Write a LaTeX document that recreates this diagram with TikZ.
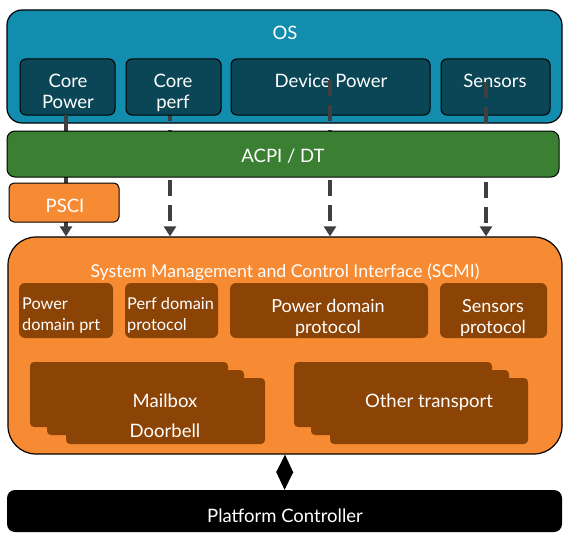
\documentclass[tikz,border=0pt]{standalone}
\usepackage{fontspec}
\setmainfont{Lato}
\usetikzlibrary{fit,arrows.meta}
\definecolor{osblue}{HTML}{128DAE}
\definecolor{osdark}{HTML}{0B4656}
\definecolor{acpigreen}{HTML}{3A7F32}
\definecolor{scmiorange}{HTML}{F68B33}
\definecolor{protobrown}{HTML}{8C4406}
\definecolor{conngray}{HTML}{3F3F3F}
\begin{document}
\begin{tikzpicture}[x=1pt,y=-1pt,
  box/.style={inner sep=0pt, draw=black, line width=1pt},
  osbig/.style={box, fill=osblue, rounded corners=15pt, line width=1.2pt},
  ossub/.style={box, fill=osdark, rounded corners=6pt},
  acpibox/.style={box, fill=acpigreen, rounded corners=8pt},
  orangebox/.style={box, fill=scmiorange, rounded corners=5pt},
  scmibox/.style={box, fill=scmiorange, rounded corners=28pt, line width=1.2pt},
  proto/.style={inner sep=0pt, fill=protobrown, rounded corners=6pt},
  stack/.style={inner sep=0pt, fill=protobrown, rounded corners=4pt},
  platbox/.style={inner sep=0pt, fill=black, rounded corners=8pt},
  txt/.style={text=white, font=\fontsize{18.5}{21}\selectfont, inner sep=0pt, anchor=base},
  txts/.style={txt, font=\fontsize{16.3}{19}\selectfont, anchor=base west},
  txtm/.style={txt, font=\fontsize{18}{21}\selectfont},
  solidconn/.style={draw=conngray, line width=3.5pt, -{Triangle[length=10pt,width=12pt]}},
  dashconn/.style={draw=conngray, line width=3.5pt, dash pattern=on 16pt off 9pt, -{Triangle[length=10pt,width=12pt]}},
  dbl/.style={draw=black, line width=1pt, {Triangle[length=18pt,width=17pt]}-{Triangle[length=18pt,width=17pt]}}
]
\useasboundingbox (0,0) rectangle (576,543);

% OS layer
\node[osbig, fit={(7,10) (562,123)}] (os) {};
\node[txt] (ostxt) at (285,40) {OS};

% SCMI block
\node[scmibox, fit={(8,237) (562,454)}] (scmi) {};

% core perf connector lies behind its box
\coordinate (cperfsrc) at (170,80);
\draw[dashconn] (cperfsrc) -- (cperfsrc |- scmi.north);

\node[ossub, fit={(20,59) (115,115)}] (cpow) {};
\node[ossub, fit={(126,59) (221,115)}] (cperf) {};
\node[ossub, fit={(231,59) (430,115)}] (dpow) {};
\node[ossub, fit={(441,59) (550,115)}] (sens) {};

\node[txt] (cpow1) at (68,88) {Core};
\node[txt] (cpow2) at (68,109) {Power};
\node[txt] (cperf1) at (173,88) {Core};
\node[txt] (cperf2) at (173,109) {perf};
\node[txt] (dpowt) at (331,88) {Device Power};
\node[txt] (senst) at (495,88) {Sensors};

% connectors from OS to SCMI
\coordinate (cpowsrc) at (66,115);
\coordinate (dpowsrc) at (330,80);
\coordinate (senssrc) at (486,82);
\draw[solidconn] (cpowsrc) -- (cpowsrc |- scmi.north);
\draw[dashconn] (dpowsrc) -- (dpowsrc |- scmi.north);
\draw[dashconn] (senssrc) -- (senssrc |- scmi.north);

% ACPI / DT and PSCI
\node[acpibox, fit={(7,131) (559,177)}] (acpi) {};
\node[txt] (acpit) at (283,162) {ACPI / DT};
\node[orangebox, fit={(9,183) (119,222)}] (psci) {};
\node[txt] (pscit) at (65,212) {PSCI};

% SCMI content
\node[txt, font=\fontsize{17.7}{21}\selectfont] (scmit) at (285,277) {System Management and Control Interface (SCMI)};
\node[proto, fit={(19,283) (113,338)}] (pdp) {};
\node[proto, fit={(125,283) (218,338)}] (perfp) {};
\node[proto, fit={(230,283) (428,338)}] (pdomp) {};
\node[proto, fit={(440,283) (547,338)}] (sensp) {};
\node[txts] (pdp1) at (22,309) {Power};
\node[txts] (pdp2) at (22,330) {domain prt};
\node[txts] (perfp1) at (127,309) {Perf domain};
\node[txts] (perfp2) at (127,330) {protocol};
\node[txtm] (pdomp1) at (328,312) {Power domain};
\node[txtm] (pdomp2) at (328,333) {protocol};
\node[txtm] (sensp1) at (493,312) {Sensors};
\node[txtm] (sensp2) at (493,333) {protocol};

% transport stacks
\node[stack, fit={(30,362) (228,427)}] (mb1) {};
\node[stack, fit={(47,370) (244,435)}] (mb2) {};
\node[stack, fit={(66,378) (265,444)}] (mb3) {};
\node[stack, fit={(294,362) (492,427)}] (ot1) {};
\node[stack, fit={(311,370) (509,435)}] (ot2) {};
\node[stack, fit={(330,378) (528,444)}] (ot3) {};
\node[txt] (mbt) at (165,407) {Mailbox};
\node[txt] (dbt) at (165,437) {Doorbell};
\node[txt] (ott) at (429,407) {Other transport};

% Platform controller
\node[platbox, fit={(7,490) (562,532)}] (plat) {};
\node[txt] (platt) at (285,522) {Platform Controller};
\draw[dbl] (scmi.south) -- (plat.north);
\end{tikzpicture}
\end{document}
